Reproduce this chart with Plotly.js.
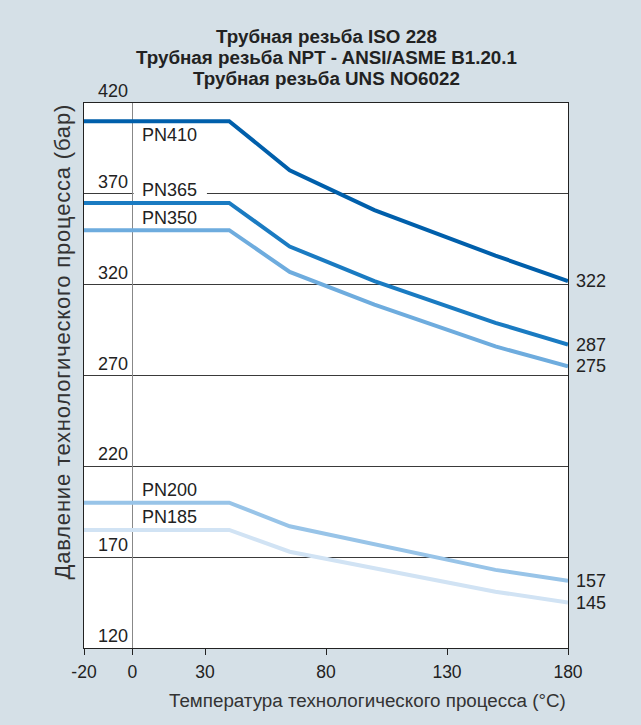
<!DOCTYPE html>
<html>
<head>
<meta charset="utf-8">
<script src="https://cdn.plot.ly/plotly-3.0.1.min.js"></script>
<style>
html,body{margin:0;padding:0;background:#d5e0e7;}
#chart{width:641px;height:725px;}
</style>
</head>
<body>
<div id="chart"></div>
<script>
const temps = [-20, 40, 65, 100, 150, 180];
const pn410 = [410, 410, 383, 361, 336, 322];
const pn365 = [365, 365, 341, 322, 299, 287];
const pn350 = [350, 350, 327, 309, 286, 275];
const pn200 = [200, 200, 187, 177, 163, 157];
const pn185 = [185, 185, 173, 164, 151, 145];
const seriesNames = ['PN410', 'PN365', 'PN350', 'PN200', 'PN185'];
const seriesValues = [pn410, pn365, pn350, pn200, pn185];
const colors = ['#005fab', '#1a7bc2', '#6eacde', '#98c4e8', '#d1e3f4'];
const xTicks = [-20, 0, 30, 80, 130, 180];
const yTicks = [120, 170, 220, 270, 320, 370, 420];
const titleLines = ['Трубная резьба ISO 228', 'Трубная резьба NPT - ANSI/ASME B1.20.1', 'Трубная резьба UNS NO6022'];
const labelPos = [402.4, 372.1, 356.5, 207, 191.9];

const FONT = 'Liberation Sans, Arial, sans-serif';
const TXT = '#222222';

const traces = seriesValues.map((vals, i) => ({
  x: temps, y: vals, type: 'scatter', mode: 'lines',
  name: seriesNames[i], line: {color: colors[i], width: 4},
  hoverinfo: 'skip', cliponaxis: false
}));

const annotations = [];
const titleShift = [67, 46, 25];
titleLines.forEach((t, i) => {
  annotations.push({x: 0.5, y: 1, xref: 'paper', yref: 'paper', xanchor: 'center', yanchor: 'middle',
    yshift: titleShift[i], text: '<b>' + t + '</b>', showarrow: false,
    font: {family: FONT, size: 18.8, color: TXT}});
});
yTicks.forEach(v => {
  annotations.push({x: -15, y: v, xref: 'x', yref: 'y', text: String(v), showarrow: false,
    xanchor: 'left', yanchor: 'bottom', yshift: 0, font: {family: FONT, size: 18, color: TXT}});
});
seriesNames.forEach((n, i) => {
  annotations.push({x: 3, y: labelPos[i], xref: 'x', yref: 'y', text: n, showarrow: false,
    xanchor: 'left', yanchor: 'middle', font: {family: FONT, size: 18, color: TXT}});
});
seriesValues.forEach((vals, i) => {
  const last = vals[vals.length - 1];
  annotations.push({x: temps[temps.length - 1], y: last, xref: 'x', yref: 'y', text: String(last),
    showarrow: false, xanchor: 'left', yanchor: 'middle', xshift: 6,
    font: {family: FONT, size: 18, color: TXT}});
});
annotations.push({x: 1, y: 0, xref: 'paper', yref: 'paper', yanchor: 'middle', xanchor: 'right', yshift: -52,
  text: 'Температура технологического процесса (°C)', showarrow: false,
  font: {family: FONT, size: 18.8, color: '#333333'}});
const yTitleIndex = annotations.length;
annotations.push({x: 0, y: 0.5615, xref: 'paper', yref: 'paper', xanchor: 'center', yanchor: 'middle', xshift: -21.5,
  text: 'Давление технологического процесса (бар)', textangle: -90, showarrow: false,
  font: {family: FONT, size: 22, color: '#333333'}});

const layout = {
  width: 641, height: 725,
  margin: {l: 84, r: 73, t: 103, b: 77},
  paper_bgcolor: '#d5e0e7', plot_bgcolor: '#ffffff',
  showlegend: false,
  xaxis: {
    range: [-20, 180], tickvals: xTicks, ticktext: xTicks.map(String),
    showgrid: false, zeroline: true, zerolinecolor: '#888888', zerolinewidth: 1.5,
    showline: true, linecolor: '#222222', linewidth: 1, mirror: true,
    ticks: 'outside', ticklen: 6, tickcolor: '#222222', tickwidth: 1, ticklabelstandoff: 2,
    tickfont: {family: FONT, size: 17.5, color: TXT}, fixedrange: true
  },
  yaxis: {
    range: [120, 420], tickvals: yTicks, showticklabels: false,
    showgrid: true, gridcolor: '#3a3a3a', gridwidth: 1, zeroline: false,
    showline: true, linecolor: '#222222', linewidth: 1, mirror: true,
    ticks: '', fixedrange: true
  },
  shapes: [
    {type: 'rect', layer: 'between', xref: 'x', yref: 'y', x0: 0.5, x1: 30.8, y0: 368.5, y1: 371.5,
     fillcolor: '#ffffff', line: {width: 0}}
  ],
  annotations: annotations
};

Plotly.newPlot('chart', traces, layout, {displayModeBar: false, staticPlot: true}).then(gd => {
  const anns = gd.querySelectorAll('.annotation');
  const el = anns[yTitleIndex];
  if (el) {
    const t = el.querySelector('text');
    if (t) t.style.letterSpacing = '0.8px';
  }
});
</script>
</body>
</html>
